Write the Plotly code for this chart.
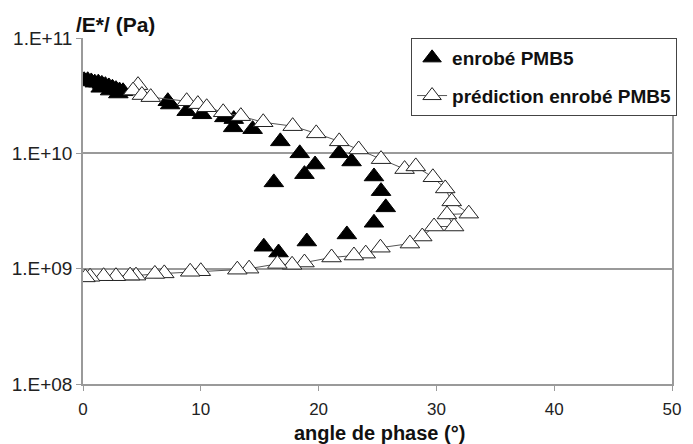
import plotly.graph_objects as go

# Measured complex modulus of the PMB5 mix: phase angle (deg) and |E*| (Pa)
mesure_angle = [0.1, 0.4, 0.7, 1.0, 1.3, 1.6, 1.9, 2.2, 2.5, 2.8, 3.1, 3.4,
                1.5, 2.3, 3.0,
                7.2, 7.4, 8.8, 10.1, 12.0, 12.8, 12.75, 14.4,
                16.75, 16.2, 18.4, 19.7, 18.8, 21.75, 22.8,
                24.7, 25.3, 25.7, 24.7, 22.4, 19.0, 15.35, 16.6]
mesure_module = [4.3e10, 4.3e10, 4.2e10, 4.1e10, 4.1e10, 4.0e10, 3.9e10, 3.8e10, 3.7e10, 3.6e10, 3.5e10, 3.45e10,
                 3.7e10, 3.5e10, 3.3e10,
                 2.83e10, 2.65e10, 2.32e10, 2.18e10, 2.05e10, 1.98e10, 1.68e10, 1.62e10,
                 1.27e10, 5.6e9, 1.0e10, 8.0e9, 6.6e9, 1.0e10, 8.5e9,
                 6.3e9, 4.7e9, 3.4e9, 2.5e9, 1.98e9, 1.72e9, 1.55e9, 1.38e9]

# Predicted curve for the same mix, ordered along the Black-space loop
pred_angle = [4.67, 4.25, 5.0, 5.75, 8.8, 9.75, 10.5, 11.9, 13.4, 15.3, 17.8, 19.8,
              21.75, 23.4, 25.3, 27.3, 28.25, 29.7, 30.75, 31.3, 32.75, 30.9, 31.5,
              29.8, 28.8, 27.75, 25.25, 24.0, 23.0, 21.1, 18.8, 17.75, 16.5, 14.1,
              13.1, 10.0, 9.1, 6.9, 6.1, 4.5, 4.0, 2.8, 1.75, 0.6, 0.2]
pred_module = [3.9e10, 3.5e10, 3.2e10, 3.07e10, 2.83e10, 2.67e10, 2.51e10, 2.27e10, 2.1e10, 1.86e10, 1.72e10, 1.49e10,
               1.27e10, 1.08e10, 8.9e9, 7.3e9, 7.7e9, 6.2e9, 4.96e9, 3.83e9, 3.0e9, 2.95e9, 2.32e9,
               2.32e9, 1.9e9, 1.65e9, 1.52e9, 1.35e9, 1.3e9, 1.25e9, 1.13e9, 1.08e9, 1.1e9, 1.0e9,
               0.98e9, 0.95e9, 0.94e9, 0.91e9, 0.9e9, 0.87e9, 0.87e9, 0.86e9, 0.86e9, 0.85e9, 0.84e9]

y_ticks = [1e8, 1e9, 1e10, 1e11]
y_tick_labels = ["1.E+08", "1.E+09", "1.E+10", "1.E+11"]
x_ticks = [0, 10, 20, 30, 40, 50]

FONT = "Arial, Liberation Sans, sans-serif"

fig = go.Figure()

fig.add_trace(go.Scatter(
    x=mesure_angle, y=mesure_module, mode="markers", name="enrobé PMB5",
    marker=dict(symbol="triangle-up", size=17, color="black",
                line=dict(color="black", width=1)),
    legendgroup="a",
))

fig.add_trace(go.Scatter(
    x=pred_angle, y=pred_module, mode="lines+markers", name="prédiction enrobé PMB5",
    line=dict(color="#555555", width=1),
    marker=dict(symbol="triangle-up", size=17, color="white",
                line=dict(color="#222222", width=1)),
    legendgroup="b",
))

axis_grey = "#9a9a9a"

fig.update_layout(
    width=693, height=444,
    margin=dict(l=79, r=14, t=38, b=60),
    paper_bgcolor="white", plot_bgcolor="white",
    showlegend=True,
    legend=dict(
        x=0.557, y=1.0, xanchor="left", yanchor="top",
        bgcolor="white", bordercolor="#444444", borderwidth=1,
        font=dict(family=FONT, size=19, color="#111111", weight="bold"),
        tracegroupgap=10,
    ),
    xaxis=dict(
        range=[0, 50], tickvals=x_ticks, showgrid=False, zeroline=False,
        showline=True, linecolor=axis_grey, linewidth=1.5,
        ticks="outside", ticklen=5, tickcolor=axis_grey,
        ticklabelstandoff=4,
        tickfont=dict(family=FONT, size=17, color="#222222"),
    ),
    yaxis=dict(
        type="log", range=[8, 11], tickvals=y_ticks, ticktext=y_tick_labels,
        showgrid=True, gridcolor=axis_grey, gridwidth=1.5, zeroline=False,
        showline=True, linecolor=axis_grey, linewidth=1.5, mirror=True,
        ticks="outside", ticklen=5, tickcolor=axis_grey,
        tickfont=dict(family=FONT, size=19, color="#222222"),
    ),
    annotations=[
        dict(text="<b>/E*/ (Pa)</b>", xref="paper", yref="paper",
             x=-0.015, y=1.04, xanchor="left", yanchor="middle", showarrow=False,
             font=dict(family=FONT, size=21, color="#111111")),
        dict(text="<b>angle de phase (°)</b>", xref="paper", yref="paper",
             x=0.503, y=-0.142, xanchor="center", yanchor="middle", showarrow=False,
             font=dict(family=FONT, size=20, color="#111111")),
    ],
)

fig.write_html("out.html")
